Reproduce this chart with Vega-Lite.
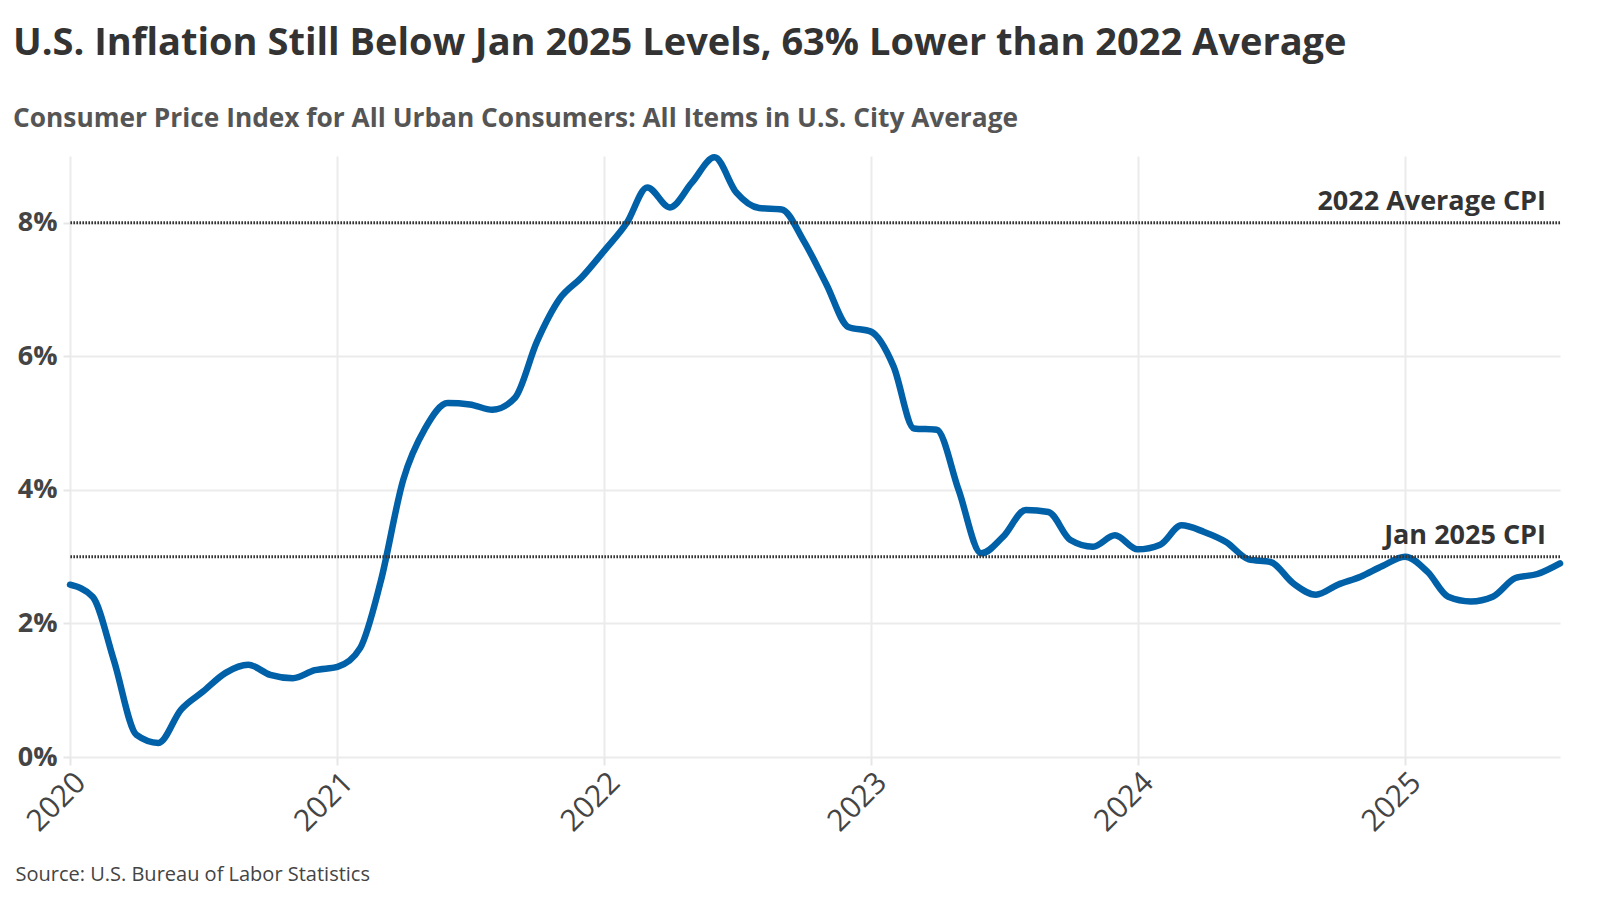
{
  "$schema": "https://vega.github.io/schema/vega-lite/v6.json",
  "width": 1490,
  "height": 601,
  "autosize": {"type": "none"},
  "padding": {"left": 70, "top": 156, "right": 40, "bottom": 143},
  "background": "white",
  "title": {
    "text": "U.S. Inflation Still Below Jan 2025 Levels, 63% Lower than 2022 Average",
    "subtitle": "Consumer Price Index for All Urban Consumers: All Items in U.S. City Average",
    "anchor": "start",
    "frame": "group",
    "dx": -57,
    "offset": 22,
    "font": "Open Sans",
    "fontSize": 38,
    "fontWeight": 700,
    "color": "#333333",
    "subtitleFont": "Open Sans",
    "subtitleFontSize": 26.3,
    "subtitleFontWeight": 700,
    "subtitleColor": "#555555",
    "subtitlePadding": 43
  },
  "config": {
    "view": {"stroke": null},
    "axis": {
      "labelFont": "Open Sans",
      "titleFont": "Open Sans",
      "gridColor": "#ebebeb",
      "gridWidth": 2,
      "tickColor": "#e6e6e6",
      "tickWidth": 2,
      "domain": false
    }
  },
  "datasets": {
    "cpi": [
      {"date": "2020-01-01", "cpi": 2.58},
      {"date": "2020-02-01", "cpi": 2.4},
      {"date": "2020-03-01", "cpi": 1.45},
      {"date": "2020-04-01", "cpi": 0.33},
      {"date": "2020-05-01", "cpi": 0.21},
      {"date": "2020-06-01", "cpi": 0.71},
      {"date": "2020-07-01", "cpi": 0.98},
      {"date": "2020-08-01", "cpi": 1.26},
      {"date": "2020-09-01", "cpi": 1.38},
      {"date": "2020-10-01", "cpi": 1.23},
      {"date": "2020-11-01", "cpi": 1.18},
      {"date": "2020-12-01", "cpi": 1.3},
      {"date": "2021-01-01", "cpi": 1.35},
      {"date": "2021-02-01", "cpi": 1.63},
      {"date": "2021-03-01", "cpi": 2.62},
      {"date": "2021-04-01", "cpi": 4.15},
      {"date": "2021-05-01", "cpi": 4.92},
      {"date": "2021-06-01", "cpi": 5.3},
      {"date": "2021-07-01", "cpi": 5.28},
      {"date": "2021-08-01", "cpi": 5.2},
      {"date": "2021-09-01", "cpi": 5.38},
      {"date": "2021-10-01", "cpi": 6.22},
      {"date": "2021-11-01", "cpi": 6.86},
      {"date": "2021-12-01", "cpi": 7.18},
      {"date": "2022-01-01", "cpi": 7.58},
      {"date": "2022-02-01", "cpi": 8.0},
      {"date": "2022-03-01", "cpi": 8.53},
      {"date": "2022-04-01", "cpi": 8.23},
      {"date": "2022-05-01", "cpi": 8.6},
      {"date": "2022-06-01", "cpi": 8.98},
      {"date": "2022-07-01", "cpi": 8.45},
      {"date": "2022-08-01", "cpi": 8.22},
      {"date": "2022-09-01", "cpi": 8.2},
      {"date": "2022-10-01", "cpi": 7.73},
      {"date": "2022-11-01", "cpi": 7.08},
      {"date": "2022-12-01", "cpi": 6.44},
      {"date": "2023-01-01", "cpi": 6.37},
      {"date": "2023-02-01", "cpi": 5.85},
      {"date": "2023-03-01", "cpi": 4.92},
      {"date": "2023-04-01", "cpi": 4.9},
      {"date": "2023-05-01", "cpi": 4.0},
      {"date": "2023-06-01", "cpi": 3.05},
      {"date": "2023-07-01", "cpi": 3.3},
      {"date": "2023-08-01", "cpi": 3.7},
      {"date": "2023-09-01", "cpi": 3.67},
      {"date": "2023-10-01", "cpi": 3.25},
      {"date": "2023-11-01", "cpi": 3.15},
      {"date": "2023-12-01", "cpi": 3.32},
      {"date": "2024-01-01", "cpi": 3.11},
      {"date": "2024-02-01", "cpi": 3.18},
      {"date": "2024-03-01", "cpi": 3.47},
      {"date": "2024-04-01", "cpi": 3.37},
      {"date": "2024-05-01", "cpi": 3.22},
      {"date": "2024-06-01", "cpi": 2.96},
      {"date": "2024-07-01", "cpi": 2.92},
      {"date": "2024-08-01", "cpi": 2.6},
      {"date": "2024-09-01", "cpi": 2.43},
      {"date": "2024-10-01", "cpi": 2.58},
      {"date": "2024-11-01", "cpi": 2.7},
      {"date": "2024-12-01", "cpi": 2.86},
      {"date": "2025-01-01", "cpi": 3.0},
      {"date": "2025-02-01", "cpi": 2.77},
      {"date": "2025-03-01", "cpi": 2.4},
      {"date": "2025-04-01", "cpi": 2.33},
      {"date": "2025-05-01", "cpi": 2.4},
      {"date": "2025-06-01", "cpi": 2.68},
      {"date": "2025-07-01", "cpi": 2.74},
      {"date": "2025-08-01", "cpi": 2.9}
    ],
    "refs": [
      {"value": 8, "label": "2022 Average CPI", "date": "2025-08-01"},
      {"value": 3, "label": "Jan 2025 CPI", "date": "2025-08-01"}
    ]
  },
  "layer": [
    {
      "data": {"name": "cpi"},
      "mark": {"type": "line", "color": "#0060a8", "strokeWidth": 6.5, "interpolate": "monotone", "strokeCap": "round", "strokeJoin": "round"},
      "encoding": {
        "x": {
          "field": "date",
          "type": "temporal",
          "scale": {"domain": ["2020-01-01", "2025-08-01"], "nice": false},
          "axis": {
            "format": "%Y",
            "tickCount": {"interval": "year", "step": 1},
            "labelAngle": -45,
            "labelFontSize": 30,
            "labelColor": "#444444",
            "labelPadding": 2,
            "tickSize": 8,
            "title": "Source: U.S. Bureau of Labor Statistics",
            "titleFontSize": 20,
            "titleFontWeight": "normal",
            "titleColor": "#444444",
            "titleAnchor": "start",
            "titleAlign": "left",
            "titleBaseline": "alphabetic",
            "titleX": -55,
            "titleY": 123
          }
        },
        "y": {
          "field": "cpi",
          "type": "quantitative",
          "scale": {"domain": [0, 9], "nice": false, "zero": true},
          "axis": {
            "values": [0, 2, 4, 6, 8],
            "labelExpr": "datum.value + '%'",
            "labelFontSize": 27,
            "labelFontWeight": "bold",
            "labelColor": "#444444",
            "labelPadding": 6,
            "tickSize": 7,
            "title": null
          }
        }
      }
    },
    {
      "data": {"name": "refs"},
      "mark": {"type": "rule", "color": "#333333", "strokeWidth": 3, "strokeDash": [1.6, 1.4]},
      "encoding": {
        "y": {"field": "value", "type": "quantitative"}
      }
    },
    {
      "data": {"name": "refs"},
      "mark": {"type": "text", "align": "right", "baseline": "alphabetic", "dx": -14, "dy": -13, "font": "Open Sans", "fontSize": 27, "fontWeight": "bold", "color": "#333333"},
      "encoding": {
        "x": {"field": "date", "type": "temporal"},
        "y": {"field": "value", "type": "quantitative"},
        "text": {"field": "label"}
      }
    }
  ]
}
